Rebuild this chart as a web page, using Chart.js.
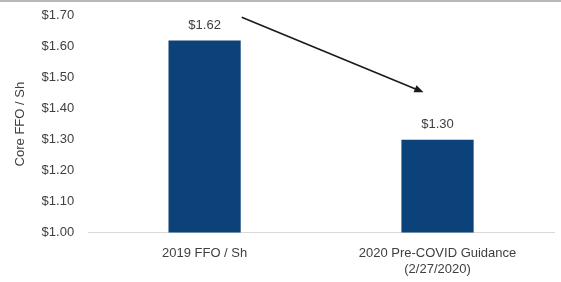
<!DOCTYPE html>
<html>
<head>
<meta charset="utf-8">
<script src="https://cdn.jsdelivr.net/npm/chart.js@4/dist/chart.umd.min.js"></script>
<style>
    html, body { margin: 0; padding: 0; background: #fff; }
    #wrap { width: 561px; height: 280px; border-top: 2px solid #b8b8b8; position: relative; }
</style>
</head>
<body>
<div id="wrap"><canvas id="ffoChart" width="561" height="280"></canvas></div>
<script>
// Chart data
const categories = ['2019 FFO / Sh', ['2020 Pre-COVID Guidance', '(2/27/2020)']];
const ffoValues = [1.62, 1.30];
const tickValues = [1.00, 1.10, 1.20, 1.30, 1.40, 1.50, 1.60, 1.70];

// Arrow runs from above the first bar down toward the second one (data units)
const arrowFrom = { index: 0, value: 1.695 };
const arrowTo = { index: 1, value: 1.453 };

const textGrey = '#404040';

// Value labels over the bars + the trend arrow
const annotations = {
    id: 'annotations',
    afterDatasetsDraw(chart) {
        const ctx = chart.ctx;
        const x = chart.scales.x;
        const y = chart.scales.y;
        const meta = chart.getDatasetMeta(0);

        ctx.save();
        ctx.fillStyle = textGrey;
        ctx.font = '13px "Liberation Sans", Arial, sans-serif';
        ctx.textAlign = 'center';
        ctx.textBaseline = 'bottom';
        meta.data.forEach((bar, i) => {
            ctx.fillText('$' + ffoValues[i].toFixed(2), bar.x, bar.y - 9);
        });

        // arrow
        const halfBar = meta.data[0].width / 2;
        const x1 = x.getPixelForValue(arrowFrom.index) + halfBar + 1;
        const y1 = y.getPixelForValue(arrowFrom.value);
        const x2 = x.getPixelForValue(arrowTo.index) - 14;
        const y2 = y.getPixelForValue(arrowTo.value);
        const ang = Math.atan2(y2 - y1, x2 - x1);
        const head = 10;
        ctx.strokeStyle = '#1a1a1a';
        ctx.fillStyle = '#1a1a1a';
        ctx.lineWidth = 1.6;
        ctx.beginPath();
        ctx.moveTo(x1, y1);
        ctx.lineTo(x2 - Math.cos(ang) * head * 0.8, y2 - Math.sin(ang) * head * 0.8);
        ctx.stroke();
        ctx.beginPath();
        ctx.moveTo(x2, y2);
        ctx.lineTo(x2 - head * Math.cos(ang - 0.4), y2 - head * Math.sin(ang - 0.4));
        ctx.lineTo(x2 - head * Math.cos(ang + 0.4), y2 - head * Math.sin(ang + 0.4));
        ctx.closePath();
        ctx.fill();
        ctx.restore();
    }
};

new Chart(document.getElementById('ffoChart').getContext('2d'), {
    type: 'bar',
    data: {
        labels: categories,
        datasets: [{
            data: ffoValues,
            backgroundColor: '#0a4279',
            categoryPercentage: 1.0,
            barPercentage: 0.31
        }]
    },
    options: {
        responsive: false,
        animation: false,
        layout: { padding: { top: 2, right: 7, bottom: -9, left: 13 } },
        plugins: {
            legend: { display: false },
            tooltip: { enabled: false }
        },
        scales: {
            x: {
                grid: { display: false, drawTicks: false },
                border: { color: '#d9d9d9', width: 1 },
                ticks: {
                    color: textGrey,
                    font: { family: '"Liberation Sans", Arial, sans-serif', size: 13, lineHeight: 1.25 },
                    padding: 13,
                    maxRotation: 0
                }
            },
            y: {
                min: 1.00,
                max: 1.70,
                afterBuildTicks(axis) {
                    axis.ticks = tickValues.map(v => ({ value: v }));
                },
                afterFit(axis) {
                    axis.width += 7;
                },
                // invisible tick marks just to keep the gap between labels and plot
                grid: {
                    display: true,
                    drawOnChartArea: false,
                    drawTicks: true,
                    tickLength: 8,
                    color: 'rgba(0,0,0,0)',
                    tickColor: 'rgba(0,0,0,0)'
                },
                border: { display: false },
                ticks: {
                    color: textGrey,
                    font: { family: '"Liberation Sans", Arial, sans-serif', size: 13 },
                    padding: 6,
                    callback: v => '$' + v.toFixed(2)
                },
                title: {
                    display: true,
                    text: 'Core FFO / Sh',
                    color: textGrey,
                    font: { family: '"Liberation Sans", Arial, sans-serif', size: 13 },
                    padding: { top: 0, bottom: 0 }
                }
            }
        }
    },
    plugins: [annotations]
});
</script>
</body>
</html>
